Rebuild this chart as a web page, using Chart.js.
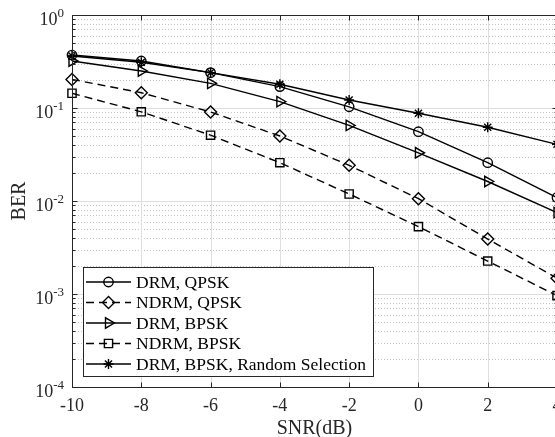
<!DOCTYPE html>
<html>
<head>
<meta charset="utf-8">
<script src="https://cdn.jsdelivr.net/npm/chart.js@4/dist/chart.umd.min.js"></script>
<style>
  html, body { margin: 0; padding: 0; background: #fff; overflow: hidden; }
  #wrap { position: relative; width: 600px; height: 437px; }
</style>
</head>
<body>
<div id="wrap"><canvas id="c"></canvas></div>
<script>
// SNR points (dB) and measured bit error rates
const snr = [-10, -8, -6, -4, -2, 0, 2, 4];
const berDrmQpsk        = [0.371, 0.32, 0.24, 0.17, 0.103, 0.0556, 0.0258, 0.0109];
const berNdrmQpsk       = [0.203, 0.146, 0.0906, 0.050, 0.0242, 0.0106, 0.0039, 0.00148];
const berDrmBpsk        = [0.32, 0.25, 0.184, 0.117, 0.065, 0.033, 0.0162, 0.0075];
const berNdrmBpsk       = [0.144, 0.091, 0.051, 0.0258, 0.0119, 0.0053, 0.00226, 0.00096];
const berDrmBpskRandom  = [0.362, 0.31, 0.24, 0.18, 0.122, 0.0877, 0.062, 0.0407];

const seriesLabels = ['DRM, QPSK', 'NDRM, QPSK', 'DRM, BPSK', 'NDRM, BPSK', 'DRM, BPSK, Random Selection'];

// axis ticks
const xTickValues = [-10, -8, -6, -4, -2, 0, 2, 4];
const yDecades = [-4, -3, -2, -1, 0];
const xTitle = 'SNR(dB)';
const yTitle = 'BER';

const FONT = '"Liberation Serif", "Times New Roman", serif';
const AXIS = '#262626';
const DASH = [8, 5];
const LW = 1.4;

function pts(ys) { return snr.map((x, i) => ({ x: x, y: ys[i] })); }

function makeSet(label, ys, style, radius, dashed, rotation) {
  return {
    label: label,
    data: pts(ys),
    borderColor: '#000',
    borderWidth: LW,
    borderDash: dashed ? DASH : [],
    pointStyle: style,
    pointRadius: radius,
    pointRotation: rotation || 0,
    pointBorderColor: '#000',
    pointBackgroundColor: 'rgba(0,0,0,0)',
    pointBorderWidth: LW,
    fill: false,
    tension: 0,
    clip: false
  };
}

const datasets = [
  makeSet(seriesLabels[0], berDrmQpsk, 'circle', 4.7, false),
  makeSet(seriesLabels[1], berNdrmQpsk, 'rectRot', 6, true),
  makeSet(seriesLabels[2], berDrmBpsk, 'triangle', 6, false, 90),
  makeSet(seriesLabels[3], berNdrmBpsk, 'rect', 5.8, true),
  makeSet(seriesLabels[4], berDrmBpskRandom, 'star', 5, false)
];

function crisp(v) { return Math.round(v) + 0.5; }

const axesPlugin = {
  id: 'matlabAxes',
  beforeDraw(chart) {
    const ctx = chart.ctx;
    ctx.save();
    ctx.fillStyle = '#fff';
    ctx.fillRect(0, 0, chart.width, chart.height);
    ctx.restore();
  },
  beforeDatasetsDraw(chart) {
    const ctx = chart.ctx;
    const a = chart.chartArea;
    const xs = chart.scales.x, ys = chart.scales.y;
    ctx.save();
    ctx.lineWidth = 1;
    // minor log grid (dotted)
    ctx.strokeStyle = '#c4c4c4';
    ctx.setLineDash([1, 2]);
    for (let i = 0; i < yDecades.length - 1; i++) {
      for (let k = 2; k <= 9; k++) {
        const y = crisp(ys.getPixelForValue(k * Math.pow(10, yDecades[i])));
        ctx.beginPath(); ctx.moveTo(a.left, y); ctx.lineTo(a.right, y); ctx.stroke();
      }
    }
    // major grid
    ctx.setLineDash([]);
    ctx.strokeStyle = '#dedede';
    yDecades.forEach(d => {
      const y = crisp(ys.getPixelForValue(Math.pow(10, d)));
      ctx.beginPath(); ctx.moveTo(a.left, y); ctx.lineTo(a.right, y); ctx.stroke();
    });
    xTickValues.forEach(v => {
      const x = crisp(xs.getPixelForValue(v));
      ctx.beginPath(); ctx.moveTo(x, a.top); ctx.lineTo(x, a.bottom); ctx.stroke();
    });
    ctx.restore();
  },
  afterDatasetsDraw(chart) {
    const ctx = chart.ctx;
    const a = chart.chartArea;
    const xs = chart.scales.x, ys = chart.scales.y;
    ctx.save();
    ctx.strokeStyle = AXIS;
    ctx.lineWidth = 1;
    ctx.setLineDash([]);
    const L = crisp(a.left), R = crisp(a.right), T = crisp(a.top), B = crisp(a.bottom);
    ctx.strokeRect(L, T, R - L, B - T);
    // x ticks (bottom and top, inward)
    xTickValues.forEach(v => {
      const x = crisp(xs.getPixelForValue(v));
      ctx.beginPath();
      ctx.moveTo(x, B); ctx.lineTo(x, B - 5);
      ctx.moveTo(x, T); ctx.lineTo(x, T + 5);
      ctx.stroke();
    });
    // y ticks major + minor (left and right, inward)
    yDecades.forEach((d, i) => {
      const y = crisp(ys.getPixelForValue(Math.pow(10, d)));
      ctx.beginPath();
      ctx.moveTo(L, y); ctx.lineTo(L + 5, y);
      ctx.moveTo(R, y); ctx.lineTo(R - 5, y);
      ctx.stroke();
      if (i < yDecades.length - 1) {
        for (let k = 2; k <= 9; k++) {
          const ym = crisp(ys.getPixelForValue(k * Math.pow(10, d)));
          ctx.beginPath();
          ctx.moveTo(L, ym); ctx.lineTo(L + 3, ym);
          ctx.moveTo(R, ym); ctx.lineTo(R - 3, ym);
          ctx.stroke();
        }
      }
    });
    // tick labels
    ctx.fillStyle = AXIS;
    ctx.textBaseline = 'alphabetic';
    ctx.font = '18px ' + FONT;
    ctx.textAlign = 'center';
    xTickValues.forEach(v => {
      ctx.fillText(String(v), xs.getPixelForValue(v), 411);
    });
    yDecades.forEach(d => {
      const y = ys.getPixelForValue(Math.pow(10, d));
      const base = '10', sup = String(d);
      ctx.font = '18px ' + FONT;
      const w1 = ctx.measureText(base).width;
      ctx.font = '13px ' + FONT;
      const w2 = ctx.measureText(sup).width;
      const right = a.left - 8;
      ctx.textAlign = 'left';
      ctx.font = '18px ' + FONT;
      ctx.fillText(base, right - w2 - w1, y + 10);
      ctx.font = '13px ' + FONT;
      ctx.fillText(sup, right - w2, y + 2);
    });
    // axis titles
    ctx.font = '20px ' + FONT;
    ctx.textAlign = 'center';
    ctx.fillText(xTitle, (a.left + a.right) / 2, 434);
    ctx.save();
    ctx.translate(25, (a.top + a.bottom) / 2);
    ctx.rotate(-Math.PI / 2);
    ctx.fillText(yTitle, 0, 0);
    ctx.restore();

    // legend
    const box = { l: 83.5, t: 267.5, r: 373.5, b: 376.5 };
    ctx.fillStyle = '#fff';
    ctx.fillRect(box.l, box.t, box.r - box.l, box.b - box.t);
    ctx.strokeStyle = AXIS;
    ctx.strokeRect(box.l, box.t, box.r - box.l, box.b - box.t);
    chart.data.datasets.forEach((ds, i) => {
      const yc = 282 + i * 20.5;
      ctx.save();
      ctx.strokeStyle = '#000';
      ctx.lineWidth = LW;
      ctx.setLineDash(ds.borderDash || []);
      ctx.beginPath(); ctx.moveTo(86, yc); ctx.lineTo(131, yc); ctx.stroke();
      ctx.setLineDash([]);
      ctx.fillStyle = 'rgba(0,0,0,0)';
      ctx.strokeStyle = '#000';
      ctx.lineWidth = LW;
      Chart.helpers.drawPoint(ctx, {
        pointStyle: ds.pointStyle, radius: ds.pointRadius,
        rotation: ds.pointRotation, borderWidth: LW
      }, 108.5, yc);
      ctx.restore();
      ctx.fillStyle = '#000';
      ctx.font = '17.5px ' + FONT;
      ctx.textAlign = 'left';
      ctx.textBaseline = 'middle';
      ctx.fillText(ds.label, 136, yc + 1);
    });
    ctx.restore();
  }
};

new Chart(document.getElementById('c'), {
  type: 'line',
  data: { datasets: datasets },
  options: {
    responsive: true,
    maintainAspectRatio: false,
    animation: false,
    devicePixelRatio: 1,
    layout: { padding: { left: 72, right: 43, top: 15, bottom: 50 } },
    plugins: { legend: { display: false }, tooltip: { enabled: false } },
    scales: {
      x: { type: 'linear', min: -10, max: 4, display: false },
      y: { type: 'logarithmic', min: 1e-4, max: 1, display: false }
    }
  },
  plugins: [axesPlugin]
});
</script>
</body>
</html>
